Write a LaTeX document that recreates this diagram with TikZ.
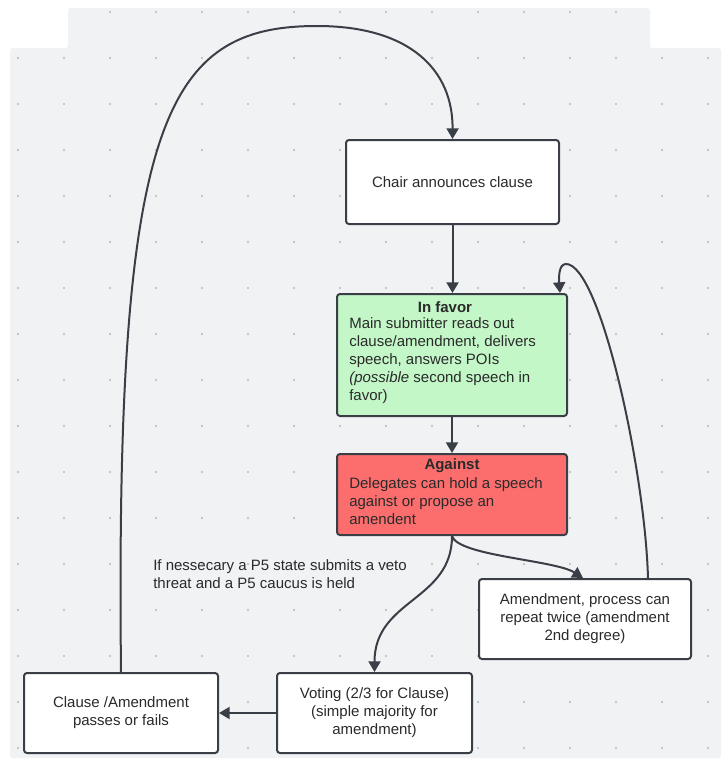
\documentclass[tikz,border=0pt]{standalone}
\usepackage{fontspec}
\setmainfont{Liberation Sans}
\usetikzlibrary{arrows.meta,calc}
\definecolor{bggray}{HTML}{F1F2F4}
\definecolor{dotc}{HTML}{B3B7BD}
\definecolor{linec}{HTML}{3A3F47}
\definecolor{txtc}{HTML}{2A2A2A}
\definecolor{favorc}{HTML}{C3F7C8}
\definecolor{againstc}{HTML}{FC6E6E}
\begin{document}
\begin{tikzpicture}[x=0.75pt,y=-0.75pt,
  box/.style={draw=linec, line width=1.5pt, rounded corners=2.25pt, fill=white, text=txtc,
    align=center, font=\fontsize{11.25}{13.5}\selectfont, inner sep=0pt},
  txt/.style={text=txtc, inner sep=0pt, font=\fontsize{11.25}{13.5}\selectfont},
  ttl/.style={text=txtc, inner sep=0pt, font=\fontsize{11.25}{13.5}\selectfont\bfseries},
  arr/.style={draw=linec, line width=1.5pt, -{Triangle[length=8pt,width=9pt]}},
]
\useasboundingbox (0,0) rectangle (721,760);
\fill[bggray, rounded corners=2pt] (10,48) -- (68,48) -- (68,8) -- (650,8) -- (650,48) -- (721,48) -- (721,758) -- (10,758) -- cycle;
\begin{scope}
\clip (10,48) -- (68,48) -- (68,8) -- (650,8) -- (650,48) -- (721,48) -- (721,758) -- (10,758) -- cycle;
\foreach \i in {0,...,15} \foreach \j in {0,...,16} \fill[dotc] ({18+46*\i},{12+46*\j}) circle (1.1);
\end{scope}

% boxes
\node[box, minimum width=159.75pt, minimum height=63pt] (chair) at (452.5,182) {Chair announces clause};
\node[box, fill=favorc, minimum width=172.5pt, minimum height=91.5pt] (favor) at (452,355) {};
\node[ttl] (favortitle) at (445,307) {In favor};
\node[txt, anchor=west, align=left] (favorbody) at (349,361) {Main submitter reads out\\clause/amendment, delivers\\speech, answers POIs\\\textit{(possible} second speech in\\favor)};
\node[box, fill=againstc, minimum width=172.5pt, minimum height=60.75pt] (against) at (452,494.5) {};
\node[ttl] (againsttitle) at (452,466) {Against};
\node[txt, anchor=west, align=left] (againstbody) at (349,501) {Delegates can hold a speech\\against or propose an\\amendent};
\node[box, minimum width=159pt, minimum height=60pt] (amend) at (585,619) {Amendment, process can\\repeat twice (amendment\\2nd degree)};
\node[box, minimum width=146.25pt, minimum height=60pt] (voting) at (374.5,713) {Voting (2/3 for Clause)\\(simple majority for\\amendment)};
\node[box, minimum width=145.5pt, minimum height=60pt] (clause) at (121,713) {Clause /Amendment\\passes or fails};
\node[txt, anchor=west, align=left] (p5) at (153,574) {If nessecary a P5 state submits a veto\\threat and a P5 caucus is held};

% connectors
\draw[arr] (chair.south) -- (chair.south |- favor.north);
\draw[arr] (favor.south) -- (against.north);
\draw[arr] (against.south) .. controls ($(against.south)+(6,20)$) and (555,560) .. ($(amend.north)+(-2,0)$);
\draw[arr] (against.south) .. controls ($(against.south)+(0,65)$) and ($(voting.north)+(0,-73)$) .. (voting.north);
\draw[arr] (voting.west) -- (clause.east);
\draw[arr] (clause.north) .. controls (115,120) and (165,26) .. (317,26) .. controls (410,26) and (453,70) .. (chair.north);
\draw[arr] ($(amend.north)+(63,0)$) .. controls (645,470) and (600,264) .. (566,264) .. controls (558,264) and (559,280) .. ($(favor.north east)+(-8,0)$);
\end{tikzpicture}
\end{document}
